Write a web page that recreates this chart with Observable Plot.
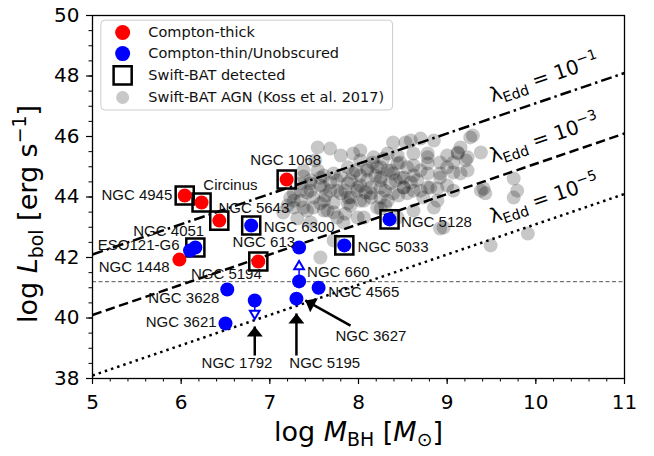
<!DOCTYPE html>
<html>
<head>
<meta charset="utf-8">
<script src="https://cdn.jsdelivr.net/npm/d3@7"></script>
<script src="https://cdn.jsdelivr.net/npm/@observablehq/plot@0.6"></script>
<style>
  body { margin: 0; background: #fff; }
</style>
</head>
<body>
<div id="chart"></div>
<script>
// ---- Swift-BAT AGN comparison sample (Koss et al. 2017): log M_BH, log L_bol ----
const kossLogM = [
  8.39, 8.53, 8.70, 8.85, 9.29, 9.38, 9.12, 9.00, 8.78, 8.62, 8.44, 8.28, 8.21, 8.33, 8.47,
  8.62, 8.78, 8.92, 9.07, 9.21, 9.23, 9.07, 8.92, 8.78, 8.62, 8.51, 8.39, 8.25, 8.10, 8.02,
  8.10, 8.14, 8.25, 8.36, 8.51, 8.55, 8.39, 8.25, 8.14, 7.99, 7.88, 7.76, 7.61, 7.54, 7.57,
  7.68, 7.80, 7.91, 8.02, 7.88, 7.72, 7.61, 7.49, 7.42, 7.35, 7.38, 7.49, 7.61, 7.72, 7.85,
  7.27, 7.20, 7.35, 8.78, 8.89, 9.00, 9.07, 8.89, 8.73, 8.96, 8.85, 9.38, 9.75, 9.79, 9.75,
  9.49, 9.91, 7.83, 7.99, 7.57, 7.72, 7.46, 9.26, 9.15, 8.59, 9.41, 9.43, 8.92, 7.38, 7.46,
  7.27, 7.15, 7.31, 7.27, 7.42, 7.54, 7.68, 7.80, 7.94, 7.38, 7.57, 8.44, 8.62, 8.25, 8.06,
  8.10, 8.14, 8.51, 8.55, 8.25, 7.94, 7.76, 7.61, 8.36, 8.70, 8.78, 9.12, 9.00, 8.81, 7.57,
  7.88, 8.02, 8.17, 8.33, 8.44, 7.99, 7.88, 8.06, 8.33, 8.62, 8.92, 9.15, 9.23, 7.72, 7.46,
  7.35, 7.23, 7.65, 7.76, 8.21, 8.66, 8.47, 8.25,
  7.91, 8.02, 8.19, 8.30, 8.42, 7.85, 7.97, 8.16, 8.08, 7.80, 7.68, 8.45, 8.59, 8.70, 8.30,
  7.91, 7.63, 7.46, 7.51, 8.02
];
const kossLogL = [
  45.80, 45.80, 45.93, 45.87, 46.03, 45.47, 45.47, 45.37, 45.44, 45.44, 45.37, 45.27, 44.98, 44.88, 45.14,
  45.04, 45.11, 45.14, 45.14, 45.21, 44.88, 44.81, 44.78, 44.78, 44.71, 44.64, 44.78, 44.64, 44.88, 44.71,
  44.55, 44.31, 44.31, 44.45, 44.31, 44.12, 44.12, 43.98, 43.98, 44.21, 44.45, 44.55, 44.71, 44.88, 44.38,
  44.21, 44.12, 43.98, 43.88, 43.79, 43.82, 43.88, 43.98, 44.15, 43.88, 43.65, 43.65, 43.55, 43.49, 43.45,
  43.65, 43.72, 44.21, 44.31, 44.28, 44.38, 44.21, 43.88, 43.98, 42.99, 43.65, 44.21, 44.61, 44.21, 43.98,
  42.40, 42.79, 43.16, 43.32, 42.00, 42.56, 43.16, 45.97, 45.64, 45.87, 44.28, 44.12, 42.96, 44.68, 44.45,
  44.12, 43.49, 43.29, 43.88, 43.55, 45.64, 45.60, 45.37, 45.44, 44.88, 44.64, 43.32, 43.55, 43.62, 43.32,
  44.94, 44.12, 44.31, 44.98, 44.55, 44.78, 44.21, 44.31, 44.88, 44.88, 45.31, 45.44, 44.98, 44.31, 43.79,
  44.98, 45.21, 45.31, 45.44, 45.11, 44.31, 43.98, 43.88, 43.88, 44.21, 44.64, 44.78, 45.31, 44.78, 44.55,
  44.45, 43.98, 43.55, 43.32, 43.65, 44.55, 44.64, 44.98,
  44.55, 44.38, 44.71, 44.21, 44.55, 44.21, 44.88, 45.14, 44.15, 44.71, 44.48, 44.05, 44.48, 44.21, 43.72,
  43.72, 44.05, 44.21, 45.21, 45.54
];

// ---- Individual galaxies ----
const galaxyNames = [
  "NGC 1448", "NGC 1068", "NGC 4945", "Circinus", "NGC 5643", "NGC 5194",
  "NGC 6300", "ESO121-G6", "NGC 4051", "NGC 5128", "NGC 5033", "NGC 613",
  "NGC 660", "NGC 4565", "NGC 3627", "NGC 3628", "NGC 1792", "NGC 3621"
];
const galaxyLogM = [5.98, 7.19, 6.04, 6.23, 6.43, 6.87, 6.79, 6.10, 6.16, 8.35, 7.84, 7.33, 7.33, 7.55, 7.30, 6.52, 6.83, 6.50];
const galaxyLogL = [41.93, 44.58, 44.05, 43.82, 43.22, 41.87, 43.06, 42.23, 42.33, 43.26, 42.40, 42.33, 41.21, 41.00, 40.64, 40.94, 40.58, 39.82];
const galaxyClass = ["thick", "thick", "thick", "thick", "thick", "thick",
  "thin", "thin", "thin", "thin", "thin", "thin", "thin", "thin", "thin", "thin", "thin", "thin"];
const galaxyBAT = [false, true, true, true, true, true, true, false, true, true, true, false, false, false, false, false, false, false];

// ---- Luminosity limits (open triangles) ----
const limitNames = ["NGC 660", "NGC 1792"];
const limitLogM = [7.33, 6.83];
const limitFromL = [41.21, 40.58];
const limitToL = [41.70, 40.15];
const limitDir = ["up", "down"];

// ---- Galaxy name labels ----
const labelText = ["NGC 4945", "Circinus", "NGC 5643", "NGC 4051", "ESO121-G6", "NGC 1448", "NGC 613",
  "NGC 5194", "NGC 3628", "NGC 1068", "NGC 6300", "NGC 5128", "NGC 5033", "NGC 660", "NGC 4565",
  "NGC 3621", "NGC 1792", "NGC 5195", "NGC 3627"];
const labelLogM = [5.90, 6.25, 6.42, 5.46, 5.06, 5.07, 6.58, 6.11, 5.63, 6.78, 6.93, 8.48, 7.99, 7.42, 7.66, 5.60, 6.23, 7.22, 7.74];
const labelLogL = [44.05, 44.38, 43.62, 42.86, 42.40, 41.67, 42.50, 41.44, 40.64, 45.21, 42.99, 43.16, 42.33, 41.50, 40.84, 39.85, 38.50, 38.50, 39.39];
const labelAnchor = ["end", "start", "start", "start", "start", "start", "start", "start", "start", "start",
  "start", "start", "start", "start", "start", "start", "start", "start", "start"];

// ---- Callout arrows (tail -> head) ----
const calloutFromM = [6.83, 7.30, 7.91];
const calloutFromL = [38.76, 38.76, 39.75];
const calloutToM = [6.83, 7.30, 7.40];
const calloutToL = [39.72, 40.15, 40.58];

// ---- Eddington ratio lines: log L_bol = log(lambda) + 38.1 + log M_BH ----
const eddLabel = ["λ_{Edd} = 10^{−1}", "λ_{Edd} = 10^{−3}", "λ_{Edd} = 10^{−5}"];
const eddMassRange = [5, 11];
const eddLbolAtRange = [[42.1, 48.1], [40.1, 46.1], [38.1, 44.1]];
const lowLumCut = 41.2;

// ---- Axis ticks ----
const xMajorTicks = [5, 6, 7, 8, 9, 10, 11];
const yMajorTicks = [38, 40, 42, 44, 46, 48, 50];
const xMinorTicks = d3.range(5, 11.001, 0.2).map(v => +v.toFixed(1));
const yMinorTicks = d3.range(38, 50.001, 0.5);

// ---- Legend ----
const legendEntries = ["Compton-thick", "Compton-thin/Unobscured", "Swift-BAT detected", "Swift-BAT AGN (Koss et al. 2017)"];
const legendLayout = { x1: 5.10, x2: 8.39, y1: 46.86, y2: 49.83, markX: 5.34, textX: 5.63, rows: [49.44, 48.74, 48.02, 47.29] };

// ---- Tables built for the marks ----
const koss = kossLogM.map((m, i) => ({ m, l: kossLogL[i] }));
const galaxies = galaxyNames.map((name, i) => ({
  name, m: galaxyLogM[i], l: galaxyLogL[i], cls: galaxyClass[i], bat: galaxyBAT[i]
}));
const limits = limitNames.map((name, i) => ({ name, m: limitLogM[i], l0: limitFromL[i], l1: limitToL[i], dir: limitDir[i] }));
const labels = labelText.map((t, i) => ({ t, m: labelLogM[i], l: labelLogL[i], a: labelAnchor[i] }));
const callouts = calloutFromM.map((m, i) => ({ m1: m, l1: calloutFromL[i], m2: calloutToM[i], l2: calloutToL[i] }));
const eddLines = eddLabel.map((label, i) => ({ label, l1: eddLbolAtRange[i][0], l2: eddLbolAtRange[i][1] }));
const eddDash = ["11,4,2.5,4", "9.5,4.5", "2.5,4"];
// labels sit just above each line, near log M_BH = 9.5
const eddText = eddLines.map(d => ({ label: d.label, m: 9.485, l: d.l1 + (9.485 - eddMassRange[0]) + 0.75 }));

const colorOf = { thick: "#ff0000", thin: "#0000ff" };
const labelFont = "'Liberation Sans', Arial, sans-serif";

const chart = Plot.plot({
  width: 654,
  height: 456,
  marginLeft: 92,
  marginRight: 30,
  marginTop: 15,
  marginBottom: 78,
  x: { domain: [5, 11] },
  y: { domain: [38, 50] },
  style: { fontFamily: "'DejaVu Sans', sans-serif", background: "white", color: "black" },
  marks: [
    // comparison sample
    Plot.dot(koss, { x: "m", y: "l", r: 7, fill: "#000", fillOpacity: 0.22, stroke: null }),
    // low-luminosity threshold
    Plot.ruleY([lowLumCut], { stroke: "#555", strokeWidth: 1, strokeDasharray: "4,2.5" }),
    // Eddington ratio lines
    ...eddLines.map((d, i) => Plot.link([d], {
      x1: () => eddMassRange[0], x2: () => eddMassRange[1], y1: "l1", y2: "l2",
      stroke: "black", strokeWidth: 2.5, strokeDasharray: eddDash[i]
    })),
    Plot.text(eddText, {
      x: "m", y: "l", text: "label", rotate: -18.8, textAnchor: "start",
      fontSize: 20, fill: "black", ariaDescription: "rich"
    }),
    // limit stems and open triangles
    Plot.link(limits, { x1: "m", x2: "m", y1: "l0", y2: "l1", stroke: "#0000ff", strokeWidth: 1.5 }),
    Plot.dot(limits, {
      x: "m", y: "l1", symbol: "triangle", r: 3.6, rotate: d => d.dir === "down" ? 180 : 0,
      fill: "white", stroke: "#0000ff", strokeWidth: 2
    }),
    // Swift-BAT detected squares
    Plot.dot(galaxies.filter(d => d.bat), {
      x: "m", y: "l", symbol: "square", r: 10.2, fill: "none", stroke: "black", strokeWidth: 2.5
    }),
    // galaxies
    Plot.dot(galaxies, { x: "m", y: "l", r: 7, fill: d => colorOf[d.cls], stroke: null }),
    // name labels
    ...["start", "end"].map(a => Plot.text(labels.filter(d => d.a === a), {
      x: "m", y: "l", text: "t", textAnchor: a, fontSize: 15, fontFamily: labelFont, fill: "#111"
    })),
    // callout arrows
    Plot.link(callouts, { x1: "m1", y1: "l1", x2: "m2", y2: "l2", stroke: "black", strokeWidth: 2.5, ariaDescription: "callout" }),
    // legend
    Plot.rect([legendLayout], { x1: "x1", x2: "x2", y1: "y1", y2: "y2", rx: 4, fill: "white", fillOpacity: 0.85, stroke: "#cccccc", strokeWidth: 1 }),
    Plot.dot([0, 1], { x: () => legendLayout.markX, y: i => legendLayout.rows[i], r: 7.5, fill: i => i === 0 ? "#ff0000" : "#0000ff", stroke: null }),
    Plot.dot([2], { x: () => legendLayout.markX, y: i => legendLayout.rows[i], symbol: "square", r: 10.2, fill: "none", stroke: "black", strokeWidth: 2.5 }),
    Plot.dot([3], { x: () => legendLayout.markX, y: i => legendLayout.rows[i], r: 6.5, fill: "#c8c8c8", stroke: null }),
    Plot.text(legendEntries, { x: () => legendLayout.textX, y: (d, i) => legendLayout.rows[i], text: d => d, textAnchor: "start", fontSize: 14.5, fill: "#111" }),
    // frame and axes
    Plot.frame({ stroke: "black", strokeWidth: 1.3 }),
    Plot.axisX({ ticks: xMinorTicks, tickSize: 3.5, tickFormat: () => "", label: null, strokeWidth: 1 }),
    Plot.axisY({ ticks: yMinorTicks, tickSize: 3.5, tickFormat: () => "", label: null, strokeWidth: 1 }),
    Plot.axisX({ ticks: xMajorTicks, tickSize: 6, tickPadding: 10, tickFormat: d => String(d), fontSize: 20, label: null, strokeWidth: 1.2 }),
    Plot.axisY({ ticks: yMajorTicks, tickSize: 6, tickPadding: 7, tickFormat: d => String(d), fontSize: 20, label: null, strokeWidth: 1.2 }),
    // axis titles
    Plot.text(["log *M*_{BH} [*M*_{⊙}]"], { frameAnchor: "bottom", textAnchor: "middle", dy: 62, fontSize: 27, fill: "black", ariaDescription: "rich" }),
    Plot.text(["log *L*_{bol} [erg s^{−1}]"], { frameAnchor: "left", textAnchor: "middle", dx: -64, dy: 17, rotate: -90, fontSize: 27, fill: "black", ariaDescription: "rich" })
  ]
});

// Sub/superscript and italic markup inside text: *italic*, _{sub}, ^{sup}
function applyRichText(svg) {
  const ns = "http://www.w3.org/2000/svg";
  const re = /\*([^*]+)\*|_\{([^}]*)\}|\^\{([^}]*)\}|([^*_^]+)/g;
  d3.select(svg).selectAll('g[aria-description="rich"] text').each(function () {
    const el = this;
    const markup = el.textContent;
    const base = parseFloat(getComputedStyle(el).fontSize) || 20;
    el.textContent = "";
    el.style.whiteSpace = "pre";
    let cur = 0, m;
    re.lastIndex = 0;
    while ((m = re.exec(markup))) {
      const t = document.createElementNS(ns, "tspan");
      let off = 0, txt;
      if (m[1] !== undefined) { txt = m[1]; t.setAttribute("font-style", "italic"); }
      else if (m[2] !== undefined) { txt = m[2]; off = 0.22 * base; t.setAttribute("font-size", 0.7 * base); }
      else if (m[3] !== undefined) { txt = m[3]; off = -0.4 * base; t.setAttribute("font-size", 0.7 * base); }
      else { txt = m[4]; }
      if (off !== cur) { t.setAttribute("dy", off - cur); cur = off; }
      t.textContent = txt;
      el.appendChild(t);
    }
  });
}

// Filled arrow heads for the callouts
function addArrowHeads(svg) {
  const defs = d3.select(svg).append("defs");
  defs.append("marker")
    .attr("id", "callout-head")
    .attr("viewBox", "0 0 10 16")
    .attr("refX", 10).attr("refY", 8)
    .attr("markerWidth", 11).attr("markerHeight", 16)
    .attr("markerUnits", "userSpaceOnUse")
    .attr("orient", "auto")
    .append("path").attr("d", "M0,0L10,8L0,16Z").attr("fill", "black");
  d3.select(svg).selectAll('g[aria-description="callout"] path').attr("marker-end", "url(#callout-head)");
}

document.getElementById("chart").appendChild(chart);
applyRichText(chart);
addArrowHeads(chart);
</script>
</body>
</html>
